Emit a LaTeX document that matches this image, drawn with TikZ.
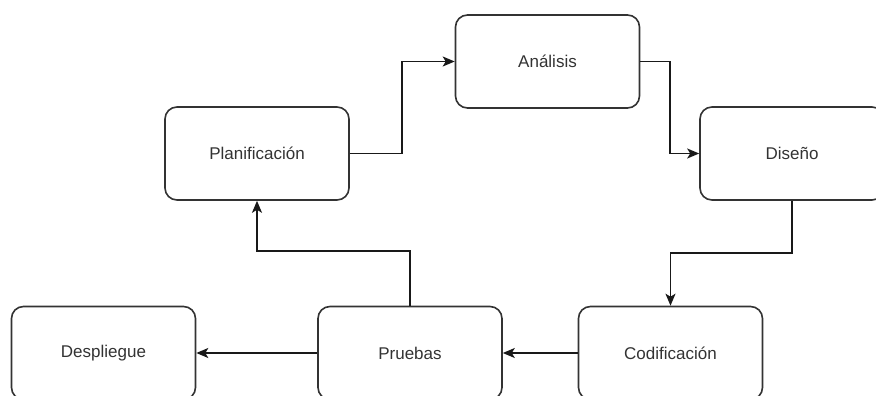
\documentclass[tikz,border=0pt]{standalone}
\usepackage{fontspec}
\setmainfont{Liberation Sans}
\usetikzlibrary{arrows.meta}
\tikzset{
  stage/.style={rectangle, rounded corners=12pt, draw=black!80, line width=1.6pt,
    minimum width=184pt, minimum height=93pt, inner sep=0pt,
    font=\fontsize{17}{20}\selectfont, text=black!80},
  flow/.style={draw=black!90, line width=1.6pt, -{Stealth[length=12pt,width=10pt,inset=3pt]}}
}
\begin{document}
\begin{tikzpicture}[x=1pt,y=-1pt]
\useasboundingbox (0,0) rectangle (876,396);
\fill[white] (0,0) rectangle (876,396);

\node[stage] (plan) at (257,153.5) {Planificación};
\node[stage] (ana)  at (547.5,61.5) {Análisis};
\node[stage] (dis)  at (792,153.5) {Diseño};
\node[stage] (cod)  at (670.5,353) {Codificación};
\node[stage] (pru)  at (410,353) {Pruebas};
\node[stage] (desp) at (103.5,353) {Despliegue};

\coordinate (j1) at (402,153.5);
\coordinate (j2) at (670,61.5);
\coordinate (j3) at (792,253);
\coordinate (j4) at (410,251);

\draw[flow] (plan.east) -- (j1) |- (ana.west);
\draw[flow] (ana.east) -- (j2) |- (dis.west);
\draw[flow] (dis.south) -- (j3) -| (cod.north);
\draw[flow] (cod.west) -- (pru.east);
\draw[flow] (pru.north) -- (j4) -| (plan.south);
\draw[flow] (pru.west) -- (desp.east);
\end{tikzpicture}
\end{document}
